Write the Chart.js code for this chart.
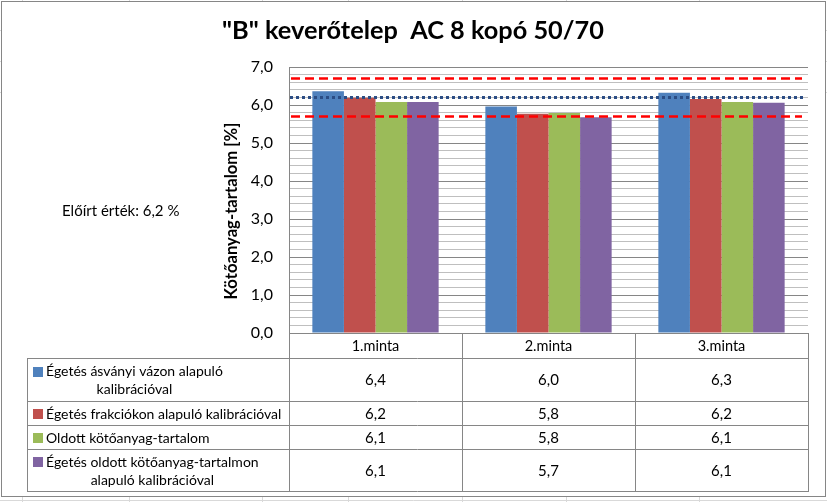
<!DOCTYPE html>
<html><head><meta charset="utf-8">
<script src="https://cdn.jsdelivr.net/npm/chart.js@4/dist/chart.umd.min.js"></script>
<style>html,body{margin:0;padding:0;background:#fff}#wrap{width:827px;height:502px}</style>
</head><body><div id="wrap"><canvas id="c" width="827" height="502"></canvas></div>
<script>
const chartTitle = '"B" keverőtelep  AC 8 kopó 50/70';
const yAxisTitle = 'Kötőanyag-tartalom [%]';
const noteText = 'Előírt érték: 6,2 %';
const categories = ['1.minta', '2.minta', '3.minta'];
const seriesNames = [
  'Égetés ásványi vázon alapuló kalibrációval',
  'Égetés frakciókon alapuló kalibrációval',
  'Oldott kötőanyag-tartalom',
  'Égetés oldott kötőanyag-tartalmon alapuló kalibrációval'
];
const seriesLabelLines = [
  ['Égetés ásványi vázon alapuló', 'kalibrációval'],
  ['Égetés frakciókon alapuló kalibrációval'],
  ['Oldott kötőanyag-tartalom'],
  ['Égetés oldott kötőanyag-tartalmon', 'alapuló kalibrációval']
];
const blueValues = [6.36, 5.96, 6.32];
const redValues = [6.19, 5.77, 6.16];
const greenValues = [6.08, 5.79, 6.08];
const purpleValues = [6.08, 5.68, 6.06];
const yMin = 0, yMax = 7, yStep = 0.2;
const targetValue = 6.2;
const upperLimit = 6.7;
const lowerLimit = 5.7;

const seriesValues = [blueValues, redValues, greenValues, purpleValues];
const colors = ['#4F81BD', '#C0504D', '#9BBB59', '#8064A2'];
const FONT = 'Lato, "Open Sans", sans-serif';
const fmt = v => v.toFixed(1).replace('.', ',');
const isMajor = v => Math.abs(v - Math.round(v)) < 1e-6;

const bgPlugin = {
  id: 'bg',
  beforeDraw(chart) {
    const ctx = chart.ctx;
    ctx.save();
    ctx.fillStyle = '#fff';
    ctx.fillRect(0, 0, 827, 502);
    ctx.strokeStyle = '#d9d9d9';
    ctx.lineWidth = 1;
    [22, 129, 262, 348, 462, 566, 699].forEach(x => {
      ctx.beginPath(); ctx.moveTo(x + 0.5, 0); ctx.lineTo(x + 0.5, 502); ctx.stroke();
    });
    [30, 61, 92, 500].forEach(y => {
      ctx.beginPath(); ctx.moveTo(0, y + 0.5); ctx.lineTo(827, y + 0.5); ctx.stroke();
    });
    ctx.fillStyle = '#fff';
    ctx.fillRect(2, 2, 823, 494);
    ctx.strokeStyle = '#868686';
    ctx.strokeRect(1.5, 1.5, 824, 495);
    ctx.restore();
  }
};

const linesPlugin = {
  id: 'limits',
  afterDatasetsDraw(chart) {
    const { ctx, chartArea: a, scales: { y } } = chart;
    ctx.save();
    ctx.lineCap = 'butt';
    [upperLimit, lowerLimit].forEach(v => {
      const py = Math.round(y.getPixelForValue(v)) + 0.5;
      ctx.strokeStyle = '#FF0000';
      ctx.lineWidth = 2.5;
      ctx.setLineDash([9, 5]);
      ctx.beginPath(); ctx.moveTo(a.left + 2, py); ctx.lineTo(a.right - 6, py); ctx.stroke();
    });
    const ty = Math.round(y.getPixelForValue(targetValue)) + 0.5;
    ctx.strokeStyle = '#2B4D85';
    ctx.lineWidth = 3;
    ctx.setLineDash([3, 3]);
    ctx.beginPath(); ctx.moveTo(a.left + 1, ty); ctx.lineTo(a.right - 4, ty); ctx.stroke();
    ctx.restore();
  }
};

const textPlugin = {
  id: 'texts',
  afterDraw(chart) {
    const { ctx } = chart;
    ctx.save();
    ctx.fillStyle = '#000';
    let size = 24;
    ctx.font = 'bold ' + size + 'px ' + FONT;
    const w = ctx.measureText(chartTitle).width;
    size = size * 382 / w;
    ctx.font = 'bold ' + size.toFixed(2) + 'px ' + FONT;
    ctx.textAlign = 'center';
    ctx.textBaseline = 'middle';
    ctx.fillText(chartTitle, 413, 31);
    ctx.save();
    ctx.translate(232, 211);
    ctx.rotate(-Math.PI / 2);
    let ts = 16;
    ctx.font = 'bold ' + ts + 'px ' + FONT;
    ts = ts * 177 / ctx.measureText(yAxisTitle).width;
    ctx.font = 'bold ' + ts.toFixed(2) + 'px ' + FONT;
    ctx.fillText(yAxisTitle, 0, 0);
    ctx.restore();
    ctx.font = '15px ' + FONT;
    ctx.textAlign = 'left';
    ctx.fillText(noteText, 62, 211);
    ctx.restore();
  }
};

const tablePlugin = {
  id: 'dataTable',
  afterDraw(chart) {
    const { ctx, chartArea: a } = chart;
    const n = categories.length;
    const catW = (a.right - a.left) / n;
    const bounds = [];
    for (let i = 0; i <= n; i++) bounds.push(Math.round(a.left + catW * i));
    const tableLeft = 27;
    const headerH = 25;
    const rowH = [43, 24, 24, 42];
    const top = Math.round(a.bottom);
    const rowTops = [top + headerH];
    rowH.forEach(h => rowTops.push(rowTops[rowTops.length - 1] + h));
    const bottom = rowTops[rowTops.length - 1];
    ctx.save();
    ctx.strokeStyle = '#868686';
    ctx.lineWidth = 1;
    const hl = (x1, x2, yy) => { ctx.beginPath(); ctx.moveTo(x1, yy + 0.5); ctx.lineTo(x2, yy + 0.5); ctx.stroke(); };
    const vl = (xx, y1, y2) => { ctx.beginPath(); ctx.moveTo(xx + 0.5, y1); ctx.lineTo(xx + 0.5, y2); ctx.stroke(); };
    hl(bounds[0], bounds[n], top);
    rowTops.forEach(t => hl(tableLeft, bounds[n], t));
    vl(tableLeft, rowTops[0], bottom + 1);
    bounds.forEach(b => vl(b, top, bottom + 1));
    ctx.fillStyle = '#000';
    ctx.font = '14.5px ' + FONT;
    ctx.textAlign = 'center';
    ctx.textBaseline = 'middle';
    categories.forEach((c, i) => ctx.fillText(c, (bounds[i] + bounds[i + 1]) / 2, top + headerH / 2 + 1));
    seriesValues.forEach((vals, r) => {
      const y0 = rowTops[r], h = rowH[r];
      const cy = y0 + h / 2 + 1;
      ctx.font = '15px ' + FONT;
      ctx.textAlign = 'center';
      vals.forEach((v, i) => ctx.fillText(fmt(v), (bounds[i] + bounds[i + 1]) / 2, cy));
      const lines = seriesLabelLines[r];
      const lh = 18;
      const firstY = cy - (lines.length - 1) * lh / 2;
      ctx.font = '14px ' + FONT;
      const w0 = ctx.measureText(lines[0]).width;
      const textX = 46;
      const center = textX + w0 / 2;
      ctx.fillStyle = colors[r];
      ctx.fillRect(33, Math.round(firstY - 5), 10, 10);
      ctx.fillStyle = '#000';
      ctx.textAlign = 'left';
      ctx.fillText(lines[0], textX, firstY);
      ctx.textAlign = 'center';
      for (let k = 1; k < lines.length; k++) ctx.fillText(lines[k], center, firstY + k * lh);
    });
    ctx.restore();
  }
};

new Chart(document.getElementById('c'), {
  type: 'bar',
  data: {
    labels: categories,
    datasets: seriesNames.map((name, i) => ({
      label: name,
      data: seriesValues[i],
      backgroundColor: colors[i],
      borderWidth: 0,
      categoryPercentage: 0.73,
      barPercentage: 1.0
    }))
  },
  options: {
    responsive: false,
    animation: false,
    devicePixelRatio: 1,
    layout: { padding: { left: 229, right: 19, top: 67, bottom: 169 } },
    plugins: { legend: { display: false }, title: { display: false }, tooltip: { enabled: false } },
    scales: {
      x: { display: false },
      y: {
        min: yMin, max: yMax,
        afterFit(scale) { scale.width = 60; },
        border: { display: true, color: '#868686', width: 1 },
        grid: {
          drawTicks: false,
          color: c => isMajor(c.tick.value) ? '#868686' : '#bfbfbf',
          lineWidth: 1
        },
        ticks: {
          stepSize: yStep,
          autoSkip: false,
          padding: 16,
          color: '#000',
          font: { family: FONT, size: 16 },
          callback: v => isMajor(v) ? fmt(v) : ''
        }
      }
    }
  },
  plugins: [bgPlugin, linesPlugin, textPlugin, tablePlugin]
});
</script></body></html>
